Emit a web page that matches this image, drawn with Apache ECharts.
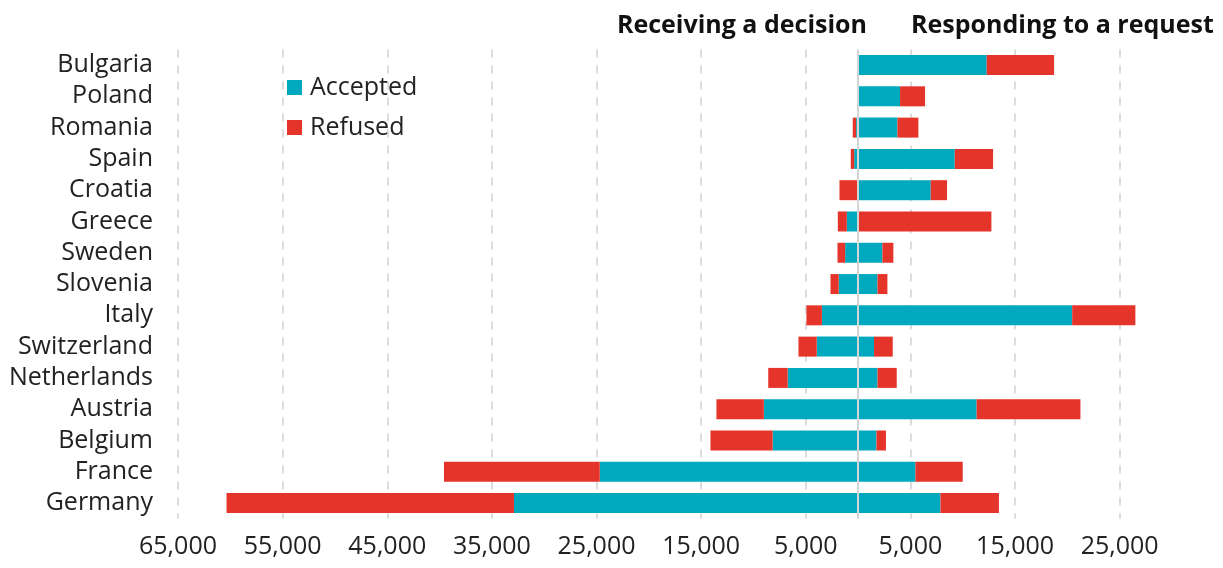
<!DOCTYPE html>
<html>
<head>
<meta charset="utf-8">
<script src="https://cdn.jsdelivr.net/npm/echarts@6/dist/echarts.min.js"></script>
<style>
html,body{margin:0;padding:0;background:#fff;}
#chart{width:1223px;height:568px;}
</style>
</head>
<body>
<div id="chart"></div>
<script>
const categories = ['Bulgaria','Poland','Romania','Spain','Croatia','Greece','Sweden','Slovenia','Italy','Switzerland','Netherlands','Austria','Belgium','France','Germany'];
// Receiving a decision (left side)
const decisionAccepted = [0, 0, 190, 380, 0, 1080, 1240, 1850, 3460, 3950, 6730, 9010, 8170, 24690, 32890];
const decisionRefused  = [100, 0, 320, 320, 1780, 860, 730, 790, 1480, 1750, 1860, 4530, 5940, 14890, 27470];
// Responding to a request (right side)
const requestAccepted  = [12290, 4010, 3760, 9240, 6940, 0, 2320, 1850, 20460, 1520, 1860, 11330, 1750, 5480, 7870];
const requestRefused   = [6440, 2390, 2000, 3660, 1560, 12740, 1050, 950, 6040, 1790, 1830, 9920, 910, 4520, 5590];
const seriesNames = ['Accepted','Refused'];
const sideTitles = ['Receiving a decision','Responding to a request'];

const TEAL = '#00A9BD', RED = '#E5352B';
const FONT = '"Open Sans", sans-serif';

const chart = echarts.init(document.getElementById('chart'), null, {renderer:'canvas'});
const neg = a => a.map(v => -v);
const barBase = {type:'bar', stack:'all', barWidth:20, emphasis:{disabled:true}};

chart.setOption({
  animation:false,
  textStyle:{fontFamily:FONT},
  grid:{left:178, right:51, top:49.4, height:469.3, containLabel:false},
  legend:{
    data:seriesNames, orient:'vertical', left:287, top:75, padding:0,
    icon:'rect', itemWidth:15, itemHeight:15, itemGap:15,
    textStyle:{fontSize:25, color:'#222', fontFamily:FONT, padding:[0,0,0,3]}
  },
  graphic:[
    {type:'text', x:867, y:26, style:{text:sideTitles[0], font:'bold 25px '+FONT, fill:'#111', textAlign:'right', textVerticalAlign:'middle'}},
    {type:'text', x:911, y:26, style:{text:sideTitles[1], font:'bold 25px '+FONT, fill:'#111', textAlign:'left', textVerticalAlign:'middle'}}
  ],
  xAxis:{
    type:'value', min:-65000, max:30000, interval:10000,
    axisLine:{show:false}, axisTick:{show:false},
    axisLabel:{
      fontSize:25, color:'#222', margin:16, showMaxLabel:false, hideOverlap:false,
      formatter:v => v === 30000 ? '' : Math.abs(v).toLocaleString('en-US')
    },
    splitLine:{show:true, showMaxLine:false, lineStyle:{color:'#dcdcdc', width:2, type:[8,8]}}
  },
  yAxis:{
    type:'category', data:categories, inverse:true,
    axisLine:{show:false}, axisTick:{show:false},
    axisLabel:{fontSize:25, color:'#222', margin:25, interval:0, lineHeight:25}
  },
  series:[
    Object.assign({}, barBase, {name:seriesNames[0], data:neg(decisionAccepted), itemStyle:{color:TEAL},
      markLine:{silent:true, symbol:'none', label:{show:false}, lineStyle:{color:'#d4d4d4', width:2, type:'solid'}, data:[{xAxis:0}]}}),
    Object.assign({}, barBase, {name:seriesNames[1], data:neg(decisionRefused), itemStyle:{color:RED}}),
    Object.assign({}, barBase, {name:seriesNames[0], data:requestAccepted, itemStyle:{color:TEAL}}),
    Object.assign({}, barBase, {name:seriesNames[1], data:requestRefused, itemStyle:{color:RED}})
  ]
});
</script>
</body>
</html>
